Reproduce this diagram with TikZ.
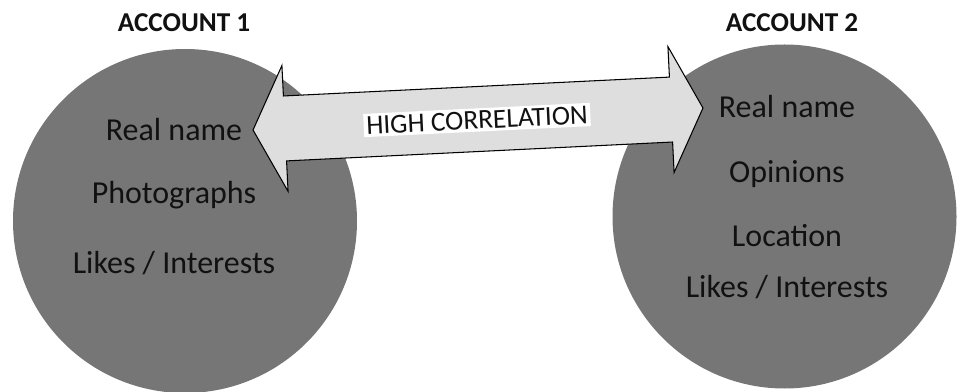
\documentclass[tikz,border=0pt]{standalone}
\usepackage{fontspec}
\setmainfont{Carlito}
\usetikzlibrary{positioning}
\definecolor{acDisc}{HTML}{767676}
\definecolor{acArrow}{HTML}{DEDEDE}
\definecolor{acInk}{HTML}{111111}
\tikzset{
  acDisc/.style={circle,fill=acDisc,draw=none,minimum size=6.88cm,inner sep=0pt},
  acTitle/.style={font=\fontsize{15.5}{17}\selectfont\bfseries,text=acInk,anchor=base},
  acItem/.style={font=\fontsize{18.2}{20}\selectfont,text=acInk,anchor=base},
  acLabel/.style={font=\fontsize{15.6}{17}\selectfont,text=acInk,fill=white,
    inner sep=1.5pt,rotate=2.8},
  acLink/.style={fill=acArrow,draw=black,line width=0.6pt,line join=miter}
}
\begin{document}
\begin{tikzpicture}[x=1cm,y=1cm]
\path[use as bounding box] (0,0) rectangle (19.14,7.82);
% the two accounts
\node[acDisc] (acct1) at (3.70,3.40) {};
\node[acDisc] (acct2) at (15.69,3.49) {};
\node[acTitle] (title1) at (3.68,7.18) {ACCOUNT 1};
\node[acTitle] (title2) at (15.84,7.18) {ACCOUNT 2};
% double arrow between them
\begin{scope}[shift={(9.56,5.44)},rotate=2.8]
\draw[acLink] (-4.505,0) -- (-3.865,1.26) -- (-3.865,0.65) -- (3.865,0.65)
  -- (3.865,1.26) -- (4.505,0) -- (3.865,-1.26) -- (3.865,-0.65)
  -- (-3.865,-0.65) -- (-3.865,-1.26) -- cycle;
\end{scope}
\node[acLabel] (corr) at (9.54,5.42) {HIGH CORRELATION};
% what each account shows
\node[acItem] (a1name) at (3.48,5.00) {Real name};
\node[acItem] (a1photo) at (3.48,3.74) {Photographs};
\node[acItem] (a1likes) at (3.48,2.36) {Likes / Interests};
\node[acItem] (a2name) at (15.74,5.46) {Real name};
\node[acItem] (a2opin) at (15.74,4.16) {Opinions};
\node[acItem] (a2loc) at (15.74,2.88) {Location};
\node[acItem] (a2likes) at (15.74,1.88) {Likes / Interests};
\end{tikzpicture}
\end{document}
